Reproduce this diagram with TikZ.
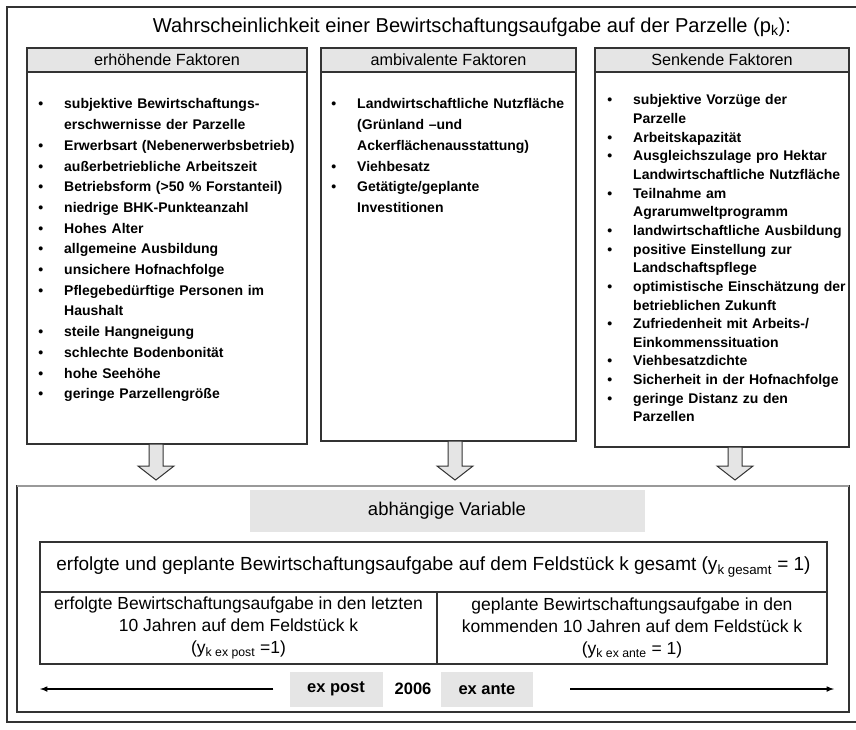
\documentclass[tikz,border=0pt]{standalone}
\usepackage{fontspec}
\setmainfont{Liberation Sans}
\usetikzlibrary{arrows,positioning}

% Aufzaehlung in den Faktorspalten
\newenvironment{punkte}{%
  \begin{list}{\textbullet}{%
    \setlength{\leftmargin}{26pt}\setlength{\labelwidth}{5pt}%
    \setlength{\labelsep}{21pt}\setlength{\itemsep}{0pt}%
    \setlength{\parsep}{0pt}\setlength{\topsep}{0pt}%
    \setlength{\partopsep}{0pt}\setlength{\itemindent}{0pt}}}%
  {\end{list}}

\begin{document}
\begin{tikzpicture}[x=1pt,y=-1pt,
    rahmen/.style={draw=black!80,line width=1.3pt,inner sep=0pt,outer sep=0pt},
    kopf/.style={rahmen,fill=black!10,minimum height=24pt,anchor=north west,
      font=\fontsize{16.2}{18}\selectfont},
    liste/.style={anchor=north west,inner sep=0pt,text width=#1,align=left,
      font=\bfseries\fontsize{14}{20.7}\selectfont},
    zelle/.style={rahmen,align=center,anchor=north west,
      font=\fontsize{17.5}{22}\selectfont},
    grau/.style={fill=black!10,minimum height=35pt,
      font=\bfseries\fontsize{16.5}{20}\selectfont},
    blockpfeil/.style={draw=black!80,line width=1pt,fill=black!10},
    zeitpfeil/.style={-latex,line width=1.5pt}]
\useasboundingbox (0,0) rectangle (856,729);

% aeusserer Rahmen
\draw[rahmen] (7,7) rectangle (870,722);
\node[font=\fontsize{20.1}{22}\selectfont] (titel) at (472,27)
  {Wahrscheinlichkeit einer Bewirtschaftungsaufgabe auf der Parzelle (p\textsubscript{k}):};

% drei Spalten
\node[kopf,minimum width=280pt] (kopfA) at (27,48) {erh\"ohende Faktoren};
\node[kopf,minimum width=255pt] (kopfB) at (321,48) {ambivalente Faktoren};
\node[kopf,minimum width=254pt] (kopfC) at (595,48) {Senkende Faktoren};
\node[rahmen,minimum width=280pt,minimum height=372pt,below=0pt of kopfA] (rumpfA) {};
\node[rahmen,minimum width=255pt,minimum height=369pt,below=0pt of kopfB] (rumpfB) {};
\node[rahmen,minimum width=254pt,minimum height=375pt,below=0pt of kopfC] (rumpfC) {};

\node[liste=265pt] (listeA) at (38,88) {\begin{punkte}
  \item subjektive Bewirtschaftungs-\newline erschwernisse der Parzelle
  \item Erwerbsart (Nebenerwerbsbetrieb)
  \item au\ss erbetriebliche Arbeitszeit
  \item Betriebsform (>50 \% Forstanteil)
  \item niedrige BHK-Punkteanzahl
  \item Hohes Alter
  \item allgemeine Ausbildung
  \item unsichere Hofnachfolge
  \item Pflegebed\"urftige Personen im\newline Haushalt
  \item steile Hangneigung
  \item schlechte Bodenbonit\"at
  \item hohe Seeh\"ohe
  \item geringe Parzellengr\"o\ss e
\end{punkte}};

\node[liste=240pt] (listeB) at (331,88) {\begin{punkte}
  \item Landwirtschaftliche Nutzfl\"ache\newline (Gr\"unland --und\newline Ackerfl\"achenausstattung)
  \item Viehbesatz
  \item Get\"atigte/geplante\newline Investitionen
\end{punkte}};

\node[liste=244pt,font=\bfseries\fontsize{14}{18.65}\selectfont] (listeC) at (607,86) {\begin{punkte}
  \item subjektive Vorz\"uge der\newline Parzelle
  \item Arbeitskapazit\"at
  \item Ausgleichszulage pro Hektar\newline Landwirtschaftliche Nutzfl\"ache
  \item Teilnahme am\newline Agrarumweltprogramm
  \item landwirtschaftliche Ausbildung
  \item positive Einstellung zur\newline Landschaftspflege
  \item optimistische Einsch\"atzung der\newline betrieblichen Zukunft
  \item Zufriedenheit mit Arbeits-/\newline Einkommenssituation
  \item Viehbesatzdichte
  \item Sicherheit in der Hofnachfolge
  \item geringe Distanz zu den\newline Parzellen
\end{punkte}};

% Blockpfeile
\foreach \x/\oben in {156/444,455/441,735/447}
  \draw[blockpfeil] (\x-7,\oben) -- (\x+7,\oben) -- (\x+7,466) -- (\x+18,466)
    -- (\x,480) -- (\x-18,466) -- (\x-7,466) -- cycle;

% abhaengige Variable
\node[rahmen,minimum width=832pt,minimum height=226pt,anchor=north west] (unten) at (17,486) {};
\draw[black!40,line width=1.3pt] (unten.north west) -- (unten.north east);
\node[fill=black!10,minimum width=395pt,minimum height=42pt,anchor=north,
  font=\fontsize{18.5}{20}\selectfont] (variable) at (447,490) {abh\"angige Variable};

\node[zelle,minimum width=787pt,minimum height=50pt,font=\fontsize{19}{22}\selectfont] (gesamt) at (40,542)
  {erfolgte und geplante Bewirtschaftungsaufgabe auf dem Feldst\"uck k gesamt (y\textsubscript{k gesamt} = 1)};
\node[zelle,minimum width=397pt,minimum height=72pt] (expost) at (gesamt.south west)
  {erfolgte Bewirtschaftungsaufgabe in den letzten\\10 Jahren auf dem Feldst\"uck k\\(y\textsubscript{k ex post} =1)};
\node[zelle,minimum width=390pt,minimum height=72pt] (exante) at (expost.north east)
  {geplante Bewirtschaftungsaufgabe in den\\kommenden 10 Jahren auf dem Feldst\"uck k\\(y\textsubscript{k ex ante} = 1)};

% Zeitachse
\node[grau,minimum width=93pt] (post) at (336,689) {ex post};
\node[font=\bfseries\fontsize{16.5}{20}\selectfont] (jahr) at (413,689) {2006};
\node[grau,minimum width=92pt] (ante) at (487,689) {ex ante};
\coordinate (spitzeL) at (40,689);
\coordinate (spitzeR) at (834,689);
\draw[zeitpfeil] ([xshift=-16pt]post.west) -- (spitzeL);
\draw[zeitpfeil] ([xshift=37pt]ante.east) -- (spitzeR);
\end{tikzpicture}
\end{document}
